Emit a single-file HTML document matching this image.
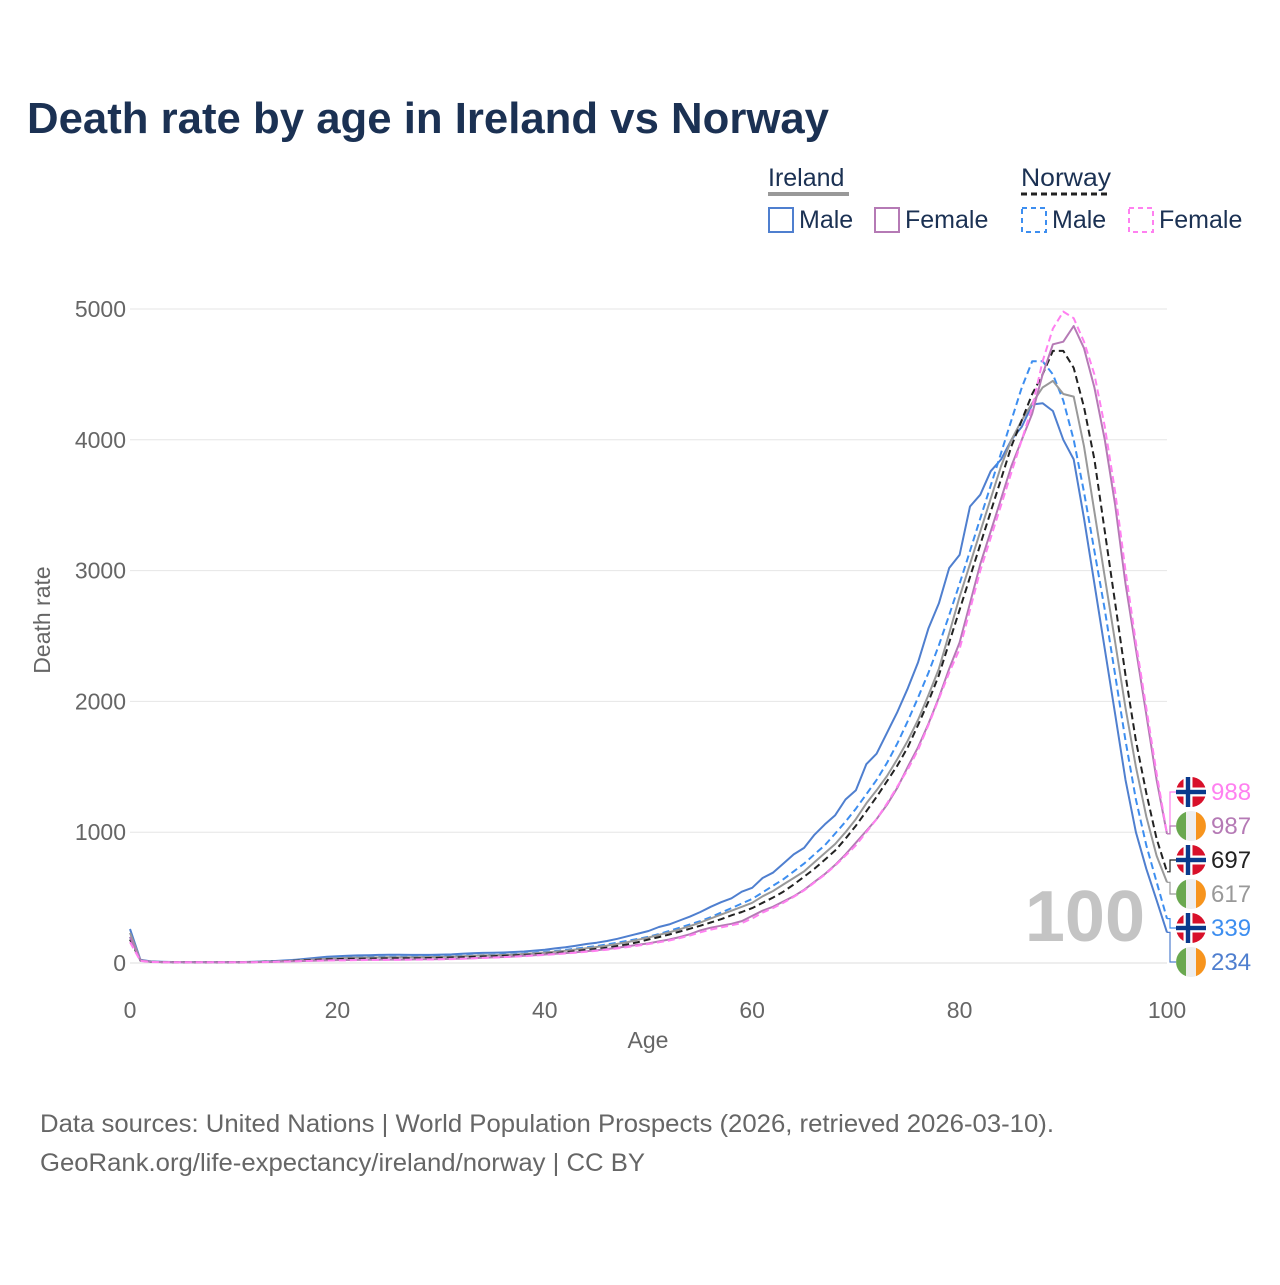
<!DOCTYPE html>
<html><head><meta charset="utf-8">
<style>
body{margin:0;background:#fff;width:1280px;height:1280px;overflow:hidden;font-family:"Liberation Sans",sans-serif}
</style></head>
<body>
<svg id="chart" width="1280" height="1280" xmlns="http://www.w3.org/2000/svg" font-family="Liberation Sans, sans-serif">
<text x="27" y="133" font-size="44" font-weight="bold" fill="#1b3153" textLength="802" lengthAdjust="spacingAndGlyphs">Death rate by age in Ireland vs Norway</text>
<g font-size="25" fill="#1b3153">
<text x="768" y="186">Ireland</text>
<line x1="768" y1="194" x2="849" y2="194" stroke="#999" stroke-width="4"/>
<text x="1021" y="186" textLength="90" lengthAdjust="spacingAndGlyphs">Norway</text>
<line x1="1021" y1="194" x2="1111" y2="194" stroke="#222" stroke-width="3" stroke-dasharray="6,4"/>
<g><rect x="769" y="208" width="24" height="24" fill="none" stroke="#4f7fcf" stroke-width="2"/><text x="799" y="228">Male</text></g>
<g><rect x="875" y="208" width="24" height="24" fill="none" stroke="#b57ab5" stroke-width="2"/><text x="905" y="228">Female</text></g>
<g><rect x="1022" y="208" width="24" height="24" fill="none" stroke="#3d8ef0" stroke-width="2" stroke-dasharray="5,4"/><text x="1052" y="228">Male</text></g>
<g><rect x="1129" y="208" width="24" height="24" fill="none" stroke="#ff80f0" stroke-width="2" stroke-dasharray="5,4"/><text x="1159" y="228">Female</text></g>
</g>
<g id="grid"></g>
<g id="yticks" font-size="23" fill="#666" text-anchor="end"></g>
<g id="xticks" font-size="23" fill="#666" text-anchor="middle"></g>
<text transform="translate(50,620) rotate(-90)" font-size="23" fill="#666" text-anchor="middle">Death rate</text>
<text x="648" y="1048" font-size="23" fill="#666" text-anchor="middle">Age</text>
<text x="1145" y="941" font-size="72" font-weight="bold" fill="#c4c4c4" text-anchor="end">100</text>
<g id="series"></g>
<g id="endlabels" font-size="24"></g>
<g font-size="25" fill="#666">
<text x="40" y="1132" textLength="1014" lengthAdjust="spacingAndGlyphs">Data sources: United Nations | World Population Prospects (2026, retrieved 2026-03-10).</text>
<text x="40" y="1171" textLength="605" lengthAdjust="spacingAndGlyphs">GeoRank.org/life-expectancy/ireland/norway | CC BY</text>
</g>
</svg>
<script>
const yTicks=[0,1000,2000,3000,4000,5000];
const xTicks=[0,20,40,60,80,100];
const irelandMale=[260,25,12,10,8,8,7,7,7,7,8,8,10,12,15,20,25,32,40,48,52,56,58,60,62,63,63,62,62,62,64,66,70,74,77,78,80,84,88,95,102,112,120,132,145,155,168,185,205,225,245,275,295,325,355,390,430,465,495,545,575,650,690,760,830,880,980,1060,1130,1250,1320,1520,1600,1760,1920,2100,2300,2560,2750,3020,3120,3490,3580,3760,3850,4000,4100,4270,4280,4220,4000,3850,3400,2900,2400,1900,1400,1000,720,480,234];
const norwayMale=[200,20,10,8,7,6,6,6,6,6,6,7,8,10,12,16,20,25,30,35,40,42,44,46,47,48,48,48,49,50,51,53,55,58,60,62,65,68,72,78,85,92,100,110,120,130,142,155,170,185,200,222,245,270,295,320,350,385,420,455,490,540,590,640,700,760,830,900,990,1080,1180,1290,1400,1530,1680,1850,2030,2220,2430,2660,2900,3150,3400,3650,3900,4150,4400,4600,4600,4500,4300,4000,3600,3150,2700,2200,1700,1250,900,620,339];
const irelandTotal=[230,22,10,8,7,7,6,6,6,6,7,7,8,10,12,15,19,24,29,34,37,40,41,42,43,44,44,44,45,46,47,49,52,55,58,60,62,65,69,74,80,87,94,103,113,122,133,146,160,178,195,215,235,258,282,310,340,370,400,430,460,510,550,600,650,700,770,840,910,1000,1100,1220,1320,1430,1560,1700,1860,2050,2250,2520,2800,3050,3300,3550,3800,4000,4150,4280,4400,4450,4350,4330,3950,3450,2950,2450,1950,1500,1120,820,617];
const norwayTotal=[180,18,9,7,6,6,5,5,5,5,6,6,7,9,11,14,17,21,25,28,30,32,33,34,35,36,36,36,37,38,40,42,44,47,50,52,55,58,62,66,70,76,83,91,100,108,118,130,143,160,180,198,218,240,262,285,310,335,365,390,420,460,500,545,600,660,720,790,860,950,1050,1160,1270,1390,1510,1650,1820,2000,2200,2450,2700,2950,3200,3450,3700,3950,4150,4350,4500,4680,4680,4550,4250,3850,3300,2750,2200,1700,1300,950,697];
const irelandFemale=[200,20,9,7,6,6,5,5,5,5,6,6,7,8,10,12,14,16,18,20,22,23,24,25,25,26,26,27,28,29,30,32,34,37,40,43,46,50,55,60,65,70,76,82,90,98,107,117,128,140,150,165,180,198,220,250,270,285,300,320,360,400,430,470,510,560,620,680,750,830,920,1010,1100,1210,1340,1500,1650,1830,2030,2250,2450,2750,3050,3300,3550,3800,4000,4200,4500,4730,4750,4870,4700,4400,4000,3500,2900,2400,1900,1400,987];
const norwayFemale=[160,16,8,6,5,5,5,5,5,5,5,6,6,7,9,11,13,15,17,19,20,21,22,23,23,24,24,25,26,27,28,30,32,35,38,41,44,48,52,57,62,67,73,79,86,94,102,112,122,133,145,158,172,190,210,235,255,272,288,305,340,385,420,460,505,555,615,675,745,820,900,1000,1100,1220,1350,1480,1630,1820,2020,2220,2400,2700,3000,3250,3500,3750,4000,4250,4600,4850,4980,4930,4750,4500,4100,3600,3000,2450,1950,1450,988];

const NS='http://www.w3.org/2000/svg';
const X0=130,X1=1167,Y0=963,Y1=309;
const xs=a=>X0+(a/100)*(X1-X0);
const ys=v=>Y0-(v/5000)*(Y0-Y1);
function mk(tag,attrs,parent){const e=document.createElementNS(NS,tag);for(const k in attrs)e.setAttribute(k,attrs[k]);parent.appendChild(e);return e;}
const grid=document.getElementById('grid'),yt=document.getElementById('yticks'),xt=document.getElementById('xticks');
yTicks.forEach(v=>{
  const l=mk('line',{x1:X0,x2:X1,y1:ys(v),y2:ys(v),stroke:v===0?'#ddd':'#e6e6e6','stroke-width':1},grid);
  
  
  const t=mk('text',{x:126,y:ys(v)+8},yt);t.textContent=v;
  
  
});
xTicks.forEach(v=>{
  const t=mk('text',{x:xs(v),y:1018},xt);t.textContent=v;
  
  
});
const series=[
 {name:'line-ireland-male',d:irelandMale,c:'#4f7fcf',dash:'',flag:'ie'},
 {name:'line-norway-male',d:norwayMale,c:'#3d8ef0',dash:'7,4',flag:'no'},
 {name:'line-ireland-total',d:irelandTotal,c:'#999999',dash:'',flag:'ie'},
 {name:'line-norway-total',d:norwayTotal,c:'#222222',dash:'7,4',flag:'no'},
 {name:'line-ireland-female',d:irelandFemale,c:'#b57ab5',dash:'',flag:'ie'},
 {name:'line-norway-female',d:norwayFemale,c:'#ff80f0',dash:'7,4',flag:'no'}
];
const sg=document.getElementById('series'),eg=document.getElementById('endlabels');
series.forEach(s=>{
  const p=mk('path',{d:s.d.map((v,i)=>(i?'L':'M')+xs(i).toFixed(1)+','+ys(v).toFixed(1)).join(''),fill:'none',stroke:s.c,'stroke-width':2,'stroke-dasharray':s.dash,'stroke-linejoin':'round'},sg);
  
  
});
const sorted=series.slice().sort((a,b)=>b.d[100]-a.d[100]);
sorted.forEach((s,i)=>{
  const ly=792+i*34, ey=ys(s.d[100]);
  const g=mk('g',{},eg);
  
  
  mk('polyline',{points:`1167,${ey} 1170,${ey} 1170,${ly} 1176,${ly}`,fill:'none',stroke:s.c,'stroke-width':1.2},g);
  const cx=1191,r=15;
  if(s.flag==='no'){
    mk('circle',{cx,cy:ly,r,fill:'#d8102a'},g);
    mk('rect',{x:cx-r,y:ly-4.5,width:2*r,height:9,fill:'#fff'},g);
    mk('rect',{x:cx-7.5,y:ly-r,width:9,height:2*r,fill:'#fff'},g);
    mk('rect',{x:cx-r,y:ly-2.2,width:2*r,height:4.4,fill:'#0a3a8c'},g);
    mk('rect',{x:cx-5.2,y:ly-r,width:4.4,height:2*r,fill:'#0a3a8c'},g);
  } else {
    mk('circle',{cx,cy:ly,r,fill:'#eeeeee'},g);
    mk('path',{d:`M${cx-5},${ly-r+0.9}A${r},${r} 0 0 0 ${cx-5},${ly+r-0.9}Z`,fill:'#6aa84f'},g);
    mk('path',{d:`M${cx+5},${ly-r+0.9}A${r},${r} 0 0 1 ${cx+5},${ly+r-0.9}Z`,fill:'#f7941d'},g);
  }
  const t=mk('text',{x:1211,y:ly+8,fill:s.c},g);t.textContent=s.d[100];
});
</script>
</body></html>
